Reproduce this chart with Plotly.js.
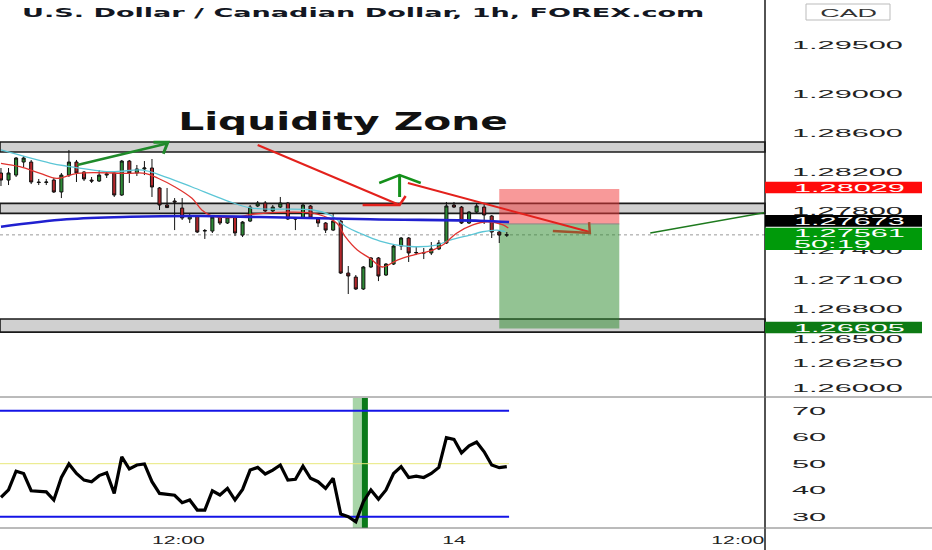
<!DOCTYPE html>
<html>
<head>
<meta charset="utf-8">
<script src="https://cdn.plot.ly/plotly-3.0.1.min.js"></script>
<style>
html,body{margin:0;padding:0;background:#fff;}
#chart{width:932px;height:550px;}
</style>
</head>
<body>
<div id="chart"></div>
<script>
// ---------- DATA ----------
const chartTitle = "U.S. Dollar / Canadian Dollar, 1h, FOREX.com";
const candleOpen = [
 1.28193,1.28121,1.28172,1.28305,1.28305,1.28101,1.28096,1.28121,1.27999,1.28172,
 1.28305,1.28203,1.28121,1.28111,1.28172,1.28193,1.27968,1.28315,1.28193,1.28234,
 1.28244,1.28040,1.27866,1.27907,1.27835,1.27723,1.27754,1.27600,1.27600,1.27743,
 1.27682,1.27743,1.27559,1.27702,1.27856,1.27886,1.27805,1.27845,1.27886,1.27733,
 1.27733,1.27856,1.27723,1.27682,1.27610,1.27702,1.27171,1.27130,1.27008,1.27233,
 1.27325,1.27151,1.27263,1.27447,1.27529,1.27376,1.27381,1.27376,1.27417,1.27478,
 1.27866,1.27845,1.27682,1.27794,1.27845,1.27754,1.27590,1.27559];
const candleHigh = [
 1.28244,1.28244,1.28356,1.28366,1.28326,1.28132,1.28132,1.28142,1.28193,1.28428,
 1.28326,1.28213,1.28152,1.28223,1.28213,1.28203,1.28326,1.28326,1.28275,1.28315,
 1.28336,1.28050,1.28040,1.27937,1.27937,1.27774,1.27764,1.27621,1.27764,1.27764,
 1.27754,1.27754,1.27702,1.27866,1.27907,1.27907,1.27866,1.27948,1.27897,1.27743,
 1.27886,1.27866,1.27743,1.27692,1.27784,1.27713,1.27243,1.27151,1.27243,1.27335,
 1.27335,1.27273,1.27457,1.27539,1.27539,1.27437,1.27427,1.27488,1.27508,1.27897,
 1.27897,1.27856,1.27805,1.27886,1.27886,1.27764,1.27610,1.27590];
const candleLow = [
 1.28060,1.28070,1.28152,1.28254,1.28080,1.28070,1.28070,1.27989,1.27937,1.28152,
 1.28101,1.28111,1.28091,1.28101,1.28142,1.27948,1.27958,1.28091,1.28162,1.28172,
 1.27948,1.27815,1.27835,1.27610,1.27713,1.27682,1.27580,1.27519,1.27580,1.27662,
 1.27672,1.27549,1.27539,1.27692,1.27845,1.27794,1.27794,1.27835,1.27713,1.27610,
 1.27723,1.27723,1.27641,1.27580,1.27600,1.27161,1.26957,1.26998,1.26998,1.27222,
 1.27089,1.27141,1.27253,1.27406,1.27284,1.27355,1.27314,1.27355,1.27406,1.27468,
 1.27835,1.27672,1.27672,1.27784,1.27672,1.27529,1.27478,1.27539];
const candleClose = [
 1.28121,1.28193,1.28346,1.28346,1.28101,1.28096,1.28101,1.27999,1.28172,1.28305,
 1.28193,1.28132,1.28111,1.28172,1.28183,1.27968,1.28315,1.28193,1.28234,1.28244,
 1.28050,1.27866,1.27840,1.27897,1.27733,1.27754,1.27590,1.27605,1.27743,1.27682,
 1.27743,1.27580,1.27692,1.27845,1.27886,1.27805,1.27845,1.27886,1.27723,1.27723,
 1.27866,1.27733,1.27682,1.27610,1.27702,1.27171,1.27141,1.27008,1.27233,1.27325,
 1.27141,1.27263,1.27447,1.27529,1.27376,1.27381,1.27376,1.27417,1.27478,1.27856,
 1.27845,1.27682,1.27794,1.27856,1.27764,1.27590,1.27559,1.27561];
const rsiValues = [
 37.3,40.1,47.2,46.3,39.8,39.6,39.4,36.3,44.8,49.9,
 46.3,43.8,43.2,45.5,46.6,38.8,52.6,48.0,49.5,49.9,
 43.2,38.8,38.3,38.1,35.3,36.3,32.5,32.5,39.8,38.2,
 40.7,36.3,40.3,47.6,48.6,46.1,47.6,49.5,43.8,44.1,
 49.1,44.5,43.2,40.7,44.5,31.0,30.0,28.1,35.7,40.1,
 36.6,40.1,46.3,48.9,44.8,45.3,44.8,46.3,48.6,59.8,
 59.2,54.1,56.7,58.2,54.5,49.5,48.5,48.9];

// moving averages (bar index, price)
const maSlowX = [0, 8.7, 17.1, 26.4, 34.3, 48.9, 63.4, 67.3];
const maSlowY = [1.27644, 1.27720, 1.27746, 1.27754, 1.27743, 1.27720, 1.27706, 1.27692];
const maMidX = [0, 6.5, 8.7, 14.4, 18.8, 21.1, 25.3, 29.7, 33.2, 41.3, 43.6, 45.8, 47.5, 50.2, 54.2, 57.7, 59.5, 62.1, 63.8, 65.7, 66.8];
const maMidY = [1.28428, 1.28295, 1.28264, 1.28206, 1.28223, 1.28172, 1.28050, 1.27917, 1.27835, 1.27815, 1.27764, 1.27641, 1.27580, 1.27498, 1.27442, 1.27457, 1.27508, 1.27559, 1.27593, 1.27610, 1.27593];
const maFastX = [0, 2.5, 5.2, 7.4, 10.1, 16.7, 19.1, 20.8, 23.0, 25.3, 26.6, 27.9, 31.0, 33.6, 38.3, 41.9, 44.5, 45.6, 47.2, 48.9, 50.5, 52.5, 54.6, 57.2, 58.5, 60.4, 62.5, 64.4, 66.5, 67.2];
const maFastY = [1.28292, 1.28257, 1.28190, 1.28139, 1.28190, 1.28190, 1.28190, 1.28139, 1.28053, 1.27934, 1.27815, 1.27754, 1.27740, 1.27774, 1.27794, 1.27774, 1.27679, 1.27542, 1.27406, 1.27321, 1.27233, 1.27304, 1.27355, 1.27406, 1.27457, 1.27580, 1.27662, 1.27695, 1.27662, 1.27631];

// zones and trade levels
const zoneTop = [1.28510, 1.27883, 1.26701];
const zoneBottom = [1.28407, 1.27781, 1.26568];
const stopPrice = 1.28029;
const entryPrice = 1.27673;
const targetPrice = 1.26605;
const lastPrice = 1.27561;
const countdown = "50:19";
const tradeStartBar = 66.0, tradeEndBar = 81.9;

// hand drawings (bar index, price)
const redArrow1X = [34.0, 52.8], redArrow1Y = [1.28479, 1.27866];
const redHead1X = [47.9, 52.8, 53.6], redHead1Y = [1.27866, 1.27866, 1.27958];
const redArrow2X = [53.9, 78.0], redArrow2Y = [1.28091, 1.27590];
const brownHead2X = [73.1, 78.0, 77.9], brownHead2Y = [1.27600, 1.27580, 1.27692];
const greenArrowX = [10.1, 22.0], greenArrowY = [1.28275, 1.28494];
const greenHeadX = [20.2, 22.1, 21.5], greenHeadY = [1.28506, 1.28506, 1.28390];
const upStemX = [52.8, 52.8], upStemY = [1.27948, 1.28172];
const upCaretX = [50.1, 52.8, 55.6], upCaretY = [1.28091, 1.28172, 1.28091];
const greenLineX = [86.0, 101.2], greenLineY = [1.27580, 1.27789];

// axes ticks
const priceTicks = [1.295, 1.290, 1.286, 1.282, 1.278, 1.274, 1.271, 1.268, 1.265, 1.2625, 1.260];
const priceTickText = ["1.29500","1.29000","1.28600","1.28200","1.27800","1.27400","1.27100","1.26800","1.26500","1.26250","1.26000"];
const rsiTicks = [30, 40, 50, 60, 70];
const timeTickBars = [23.5, 60, 97.6];
const timeTickText = ["12:00", "14", "12:00"];

// ---------- CHART ----------
const bars = candleOpen.map((_, i) => i);
const drawLine = (x, y, color, width) => ({type:'scatter', mode:'lines', x:x, y:y, xaxis:'x', yaxis:'y',
  line:{color:color, width:width}, hoverinfo:'skip', showlegend:false});

const data = [
  {type:'candlestick', x:bars, open:candleOpen, high:candleHigh, low:candleLow, close:candleClose,
   xaxis:'x', yaxis:'y', whiskerwidth:0,
   increasing:{line:{color:'#111', width:1}, fillcolor:'#2e8b36'},
   decreasing:{line:{color:'#111', width:1}, fillcolor:'#b3262a'},
   hoverinfo:'skip', showlegend:false},
  {type:'scatter', mode:'lines', x:maMidX, y:maMidY, line:{color:'#5cc6d6', width:1.3, shape:'spline'}, hoverinfo:'skip', showlegend:false},
  {type:'scatter', mode:'lines', x:maFastX, y:maFastY, line:{color:'#e0332f', width:1.3, shape:'spline'}, hoverinfo:'skip', showlegend:false},
  {type:'scatter', mode:'lines', x:maSlowX, y:maSlowY, line:{color:'#2020d0', width:2.6, shape:'spline'}, hoverinfo:'skip', showlegend:false},
  drawLine(redArrow1X, redArrow1Y, '#e3211c', 2),
  drawLine(redHead1X, redHead1Y, '#e3211c', 2.5),
  drawLine(redArrow2X, redArrow2Y, '#e3211c', 2),
  drawLine(brownHead2X, brownHead2Y, '#a0522d', 2.5),
  drawLine(greenArrowX, greenArrowY, '#1f8a2a', 2.5),
  drawLine(greenHeadX, greenHeadY, '#1f8a2a', 3),
  drawLine(upStemX, upStemY, '#14901a', 3),
  drawLine(upCaretX, upCaretY, '#14901a', 2.5),
  drawLine(greenLineX, greenLineY, '#1e7a1e', 1.5),
  {type:'scatter', mode:'lines', x:bars, y:rsiValues, xaxis:'x', yaxis:'y2',
   line:{color:'#000', width:3.2}, hoverinfo:'skip', showlegend:false}
];

const mainTop = 1, mainBottom = 1 - 397/528, rsiTop = 1 - 398/528;
const shapes = [];
for (let i = 0; i < zoneTop.length; i++) {
  shapes.push({type:'rect', xref:'paper', yref:'y', x0:0, x1:1, y0:zoneBottom[i], y1:zoneTop[i],
    fillcolor:'#d0d0d0', line:{color:'#1a1a1a', width:1.6}, layer:'below'});
}
shapes.push({type:'rect', xref:'x', yref:'y', x0:tradeStartBar, x1:tradeEndBar, y0:entryPrice, y1:stopPrice,
  fillcolor:'rgba(242,60,60,0.52)', line:{width:0}, layer:'below'});
shapes.push({type:'rect', xref:'x', yref:'y', x0:tradeStartBar, x1:tradeEndBar, y0:targetPrice, y1:entryPrice,
  fillcolor:'rgba(40,135,40,0.5)', line:{width:0}, layer:'below'});
shapes.push({type:'line', xref:'x', yref:'y', x0:tradeStartBar, x1:tradeEndBar, y0:entryPrice, y1:entryPrice,
  line:{color:'#888', width:1}, layer:'below'});
shapes.push({type:'line', xref:'paper', yref:'y', x0:0, x1:1, y0:lastPrice, y1:lastPrice,
  line:{color:'#9a9a9a', width:1, dash:'dot'}, layer:'below'});
// RSI guides
[70, 30].forEach(v => shapes.push({type:'line', xref:'x', yref:'y2', x0:-0.13, x1:67.3, y0:v, y1:v,
  line:{color:'#1414e6', width:2}, layer:'below'}));
shapes.push({type:'line', xref:'x', yref:'y2', x0:-0.13, x1:67.3, y0:50, y1:50, line:{color:'#e8e87a', width:1}, layer:'below'});
shapes.push({type:'rect', xref:'x', yref:'paper', x0:46.6, x1:47.8, y0:0, y1:rsiTop, fillcolor:'#a8d5a8', line:{width:0}, layer:'below'});
shapes.push({type:'rect', xref:'x', yref:'paper', x0:47.8, x1:48.6, y0:0, y1:rsiTop, fillcolor:'#0b7a1a', line:{width:0}, layer:'below'});
// mask for time labels running past the price scale edge
shapes.push({type:'rect', xref:'paper', yref:'paper', x0:1.0, x1:932/765, y0:-22/528, y1:-1/528, fillcolor:'#fff', line:{width:0}});
// frame lines
shapes.push({type:'line', xref:'paper', yref:'paper', x0:1, x1:1, y0:-22/528, y1:1, line:{color:'#1a1a1a', width:1.5}});
shapes.push({type:'line', xref:'paper', yref:'paper', x0:0, x1:932/765, y0:mainBottom, y1:mainBottom, line:{color:'#777', width:1}});
shapes.push({type:'line', xref:'paper', yref:'paper', x0:0, x1:932/765, y0:0, y1:0, line:{color:'#777', width:1}});
// CAD badge
shapes.push({type:'rect', xref:'paper', yref:'paper', x0:806/765, x1:890/765, y0:1-20/528, y1:1-4/528,
  fillcolor:'#fff', line:{color:'#bbb', width:1}});
// price labels boxes (pixel rows of the price scale)
const px = v => 1 - v/528;
const labelBoxes = [
  {top:181.7, bot:193.3, color:'#ff0a0a'},
  {top:215.0, bot:226.7, color:'#000000'},
  {top:227.7, bot:250.0, color:'#009a0a'},
  {top:321.7, bot:333.3, color:'#0d7a14'}
];
labelBoxes.forEach(b => shapes.push({type:'rect', xref:'paper', yref:'paper', x0:1.0, x1:922/765,
  y0:px(b.bot), y1:px(b.top), fillcolor:b.color, line:{width:0}}));

const labelFont = {family:'Liberation Sans, Arial, sans-serif', size:11, color:'#fff'};
const annotations = [
  {text:'Liquidity Zone', xref:'paper', yref:'paper', x:343/765, y:px(122), xanchor:'center', yanchor:'middle',
   showarrow:false, font:{family:'DejaVu Sans, sans-serif', size:24, weight:'bold', color:'#111'}},
  {text:'CAD', xref:'paper', yref:'paper', x:848/765, y:px(12.5), xanchor:'center', yanchor:'middle',
   showarrow:false, font:{family:'Liberation Sans, Arial, sans-serif', size:11, color:'#333'}},
  {text:stopPrice.toFixed(5), xref:'paper', yref:'paper', x:792/765, y:px(187.5), xanchor:'left', yanchor:'middle', align:'left', showarrow:false, font:labelFont},
  {text:entryPrice.toFixed(5), xref:'paper', yref:'paper', x:792/765, y:px(220.9), xanchor:'left', yanchor:'middle', align:'left', showarrow:false, font:labelFont},
  {text:lastPrice.toFixed(5), xref:'paper', yref:'paper', x:792/765, y:px(233.2), xanchor:'left', yanchor:'middle', align:'left', showarrow:false, font:labelFont},
  {text:countdown, xref:'paper', yref:'paper', x:792/765, y:px(244.2), xanchor:'left', yanchor:'middle', align:'left', showarrow:false, font:labelFont},
  {text:targetPrice.toFixed(5), xref:'paper', yref:'paper', x:792/765, y:px(327.5), xanchor:'left', yanchor:'middle', align:'left', showarrow:false, font:labelFont}
];

const tickFont = {family:'Liberation Sans, Arial, sans-serif', size:11, color:'#222'};
const layout = {
  width:932, height:550,
  margin:{l:0, r:167, t:0, b:22, pad:0},
  paper_bgcolor:'#fff', plot_bgcolor:'#fff',
  showlegend:false, hovermode:false, dragmode:false,
  boxgap:0.42,
  title:{text:chartTitle, xref:'container', yref:'container', x:22/932, xanchor:'left', y:1-12.5/550, yanchor:'middle',
         font:{family:'DejaVu Sans, sans-serif', size:12.5, weight:'bold', color:'#131722'}},
  xaxis:{domain:[0,1], range:[-0.13, 101.2], anchor:'y2', showgrid:false, zeroline:false, showline:false,
         tickvals:timeTickBars, ticktext:timeTickText, ticks:'', ticklabelstandoff:4, tickfont:tickFont, rangeslider:{visible:false},
         fixedrange:true},
  yaxis:{domain:[mainBottom, mainTop], range:[1.25905, 1.2996], side:'right', anchor:'x', showgrid:false, zeroline:false,
         showline:false, tickvals:priceTicks, ticktext:priceTickText, ticks:'', ticklabelstandoff:26, tickfont:tickFont, fixedrange:true},
  yaxis2:{domain:[0, rsiTop], range:[25.74, 74.79], side:'right', anchor:'x', showgrid:false, zeroline:false,
          showline:false, tickvals:rsiTicks, ticks:'', ticklabelstandoff:26, tickfont:tickFont, fixedrange:true},
  shapes:shapes,
  annotations:annotations
};

// widen text like the reference (horizontally stretched glyphs)
function stretchNode(el, s) {
  const x = parseFloat(el.getAttribute('x')) || 0;
  const t = el.getAttribute('transform') || '';
  el.setAttribute('transform', (t + ' translate(' + x + ',0) scale(' + s + ',1) translate(' + (-x) + ',0)').trim());
}
function widthOf(el) { try { return el.getBBox().width; } catch (e) { return 0; } }

const gd = document.getElementById('chart');
Plotly.newPlot(gd, data, layout, {staticPlot:true, displayModeBar:false}).then(() => {
  const yt = gd.querySelectorAll('.ytick text');
  let f = 2.7;
  if (yt.length && widthOf(yt[0]) > 0) f = 111 / widthOf(yt[0]);
  gd.querySelectorAll('.ytick text, .y2tick text').forEach(el => stretchNode(el, f));
  const xt = Array.from(gd.querySelectorAll('.xtick text'));
  let fx = 1.9;
  const ref = xt.find(el => el.textContent === '12:00');
  if (ref && widthOf(ref) > 0) fx = 53 / widthOf(ref);
  xt.forEach(el => stretchNode(el, fx));
  const ann = gd.querySelectorAll('.annotation-text');
  ann.forEach((el, i) => {
    const w = widthOf(el);
    if (i === 0) { if (w > 0) stretchNode(el, 330 / w); }
    else if (i === 1) { if (w > 0) stretchNode(el, 57 / w); }
    else stretchNode(el, f);
  });
  const tt = gd.querySelector('.gtitle');
  if (tt && widthOf(tt) > 0) stretchNode(tt, 683 / widthOf(tt));
});
</script>
</body>
</html>
